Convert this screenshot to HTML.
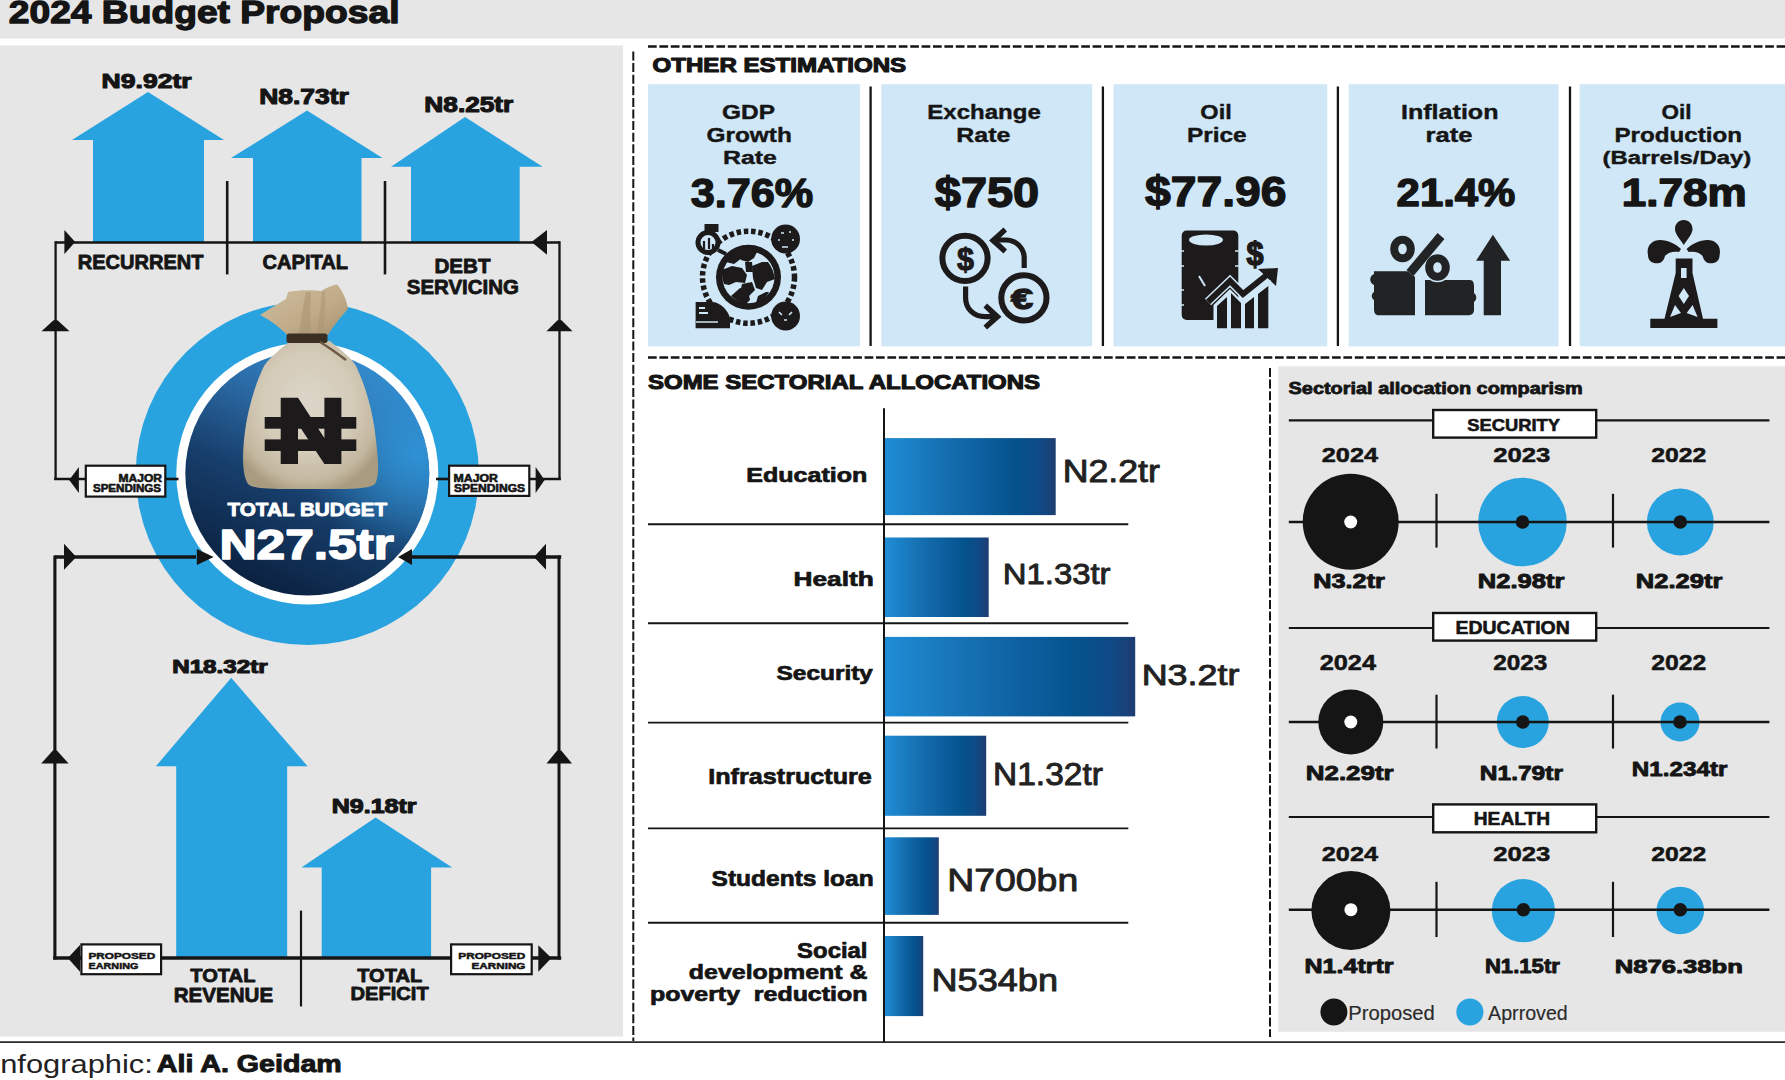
<!DOCTYPE html>
<html><head><meta charset="utf-8"><title>2024 Budget Proposal</title>
<style>html,body{margin:0;padding:0;background:#fff;width:1785px;height:1080px;overflow:hidden}
svg{display:block}
text{font-family:"Liberation Sans",sans-serif}</style></head>
<body><svg width="1785" height="1080" viewBox="0 0 1785 1080">
<rect x="0" y="0" width="1785.00" height="38.50" fill="#e6e6e6"/>
<text x="8.75" y="22.85" font-size="32.00" font-weight="bold" fill="#151515" stroke="#151515" stroke-width="1.3" stroke-linejoin="round" textLength="390.74" lengthAdjust="spacingAndGlyphs">2024 Budget Proposal</text>
<rect x="0" y="45.5" width="623.00" height="991.00" fill="#e6e6e6"/>
<polygon fill="#29a3df" points="148.0,92.0 224.0,140.0 204.0,140.0 204.0,242.0 93.0,242.0 93.0,140.0 72.0,140.0"/>
<polygon fill="#29a3df" points="307.0,110.5 382.5,158.0 361.5,158.0 361.5,242.0 253.0,242.0 253.0,158.0 231.0,158.0"/>
<polygon fill="#29a3df" points="465.0,117.0 542.6,166.7 519.7,166.7 519.7,242.0 411.0,242.0 411.0,166.7 391.0,166.7"/>
<text x="101.63" y="87.55" font-size="20.86" font-weight="bold" fill="#151515" stroke="#151515" stroke-width="1.1" stroke-linejoin="round" textLength="89.94" lengthAdjust="spacingAndGlyphs">N9.92tr</text>
<text x="259.23" y="103.85" font-size="21.43" font-weight="bold" fill="#151515" stroke="#151515" stroke-width="1.1" stroke-linejoin="round" textLength="89.63" lengthAdjust="spacingAndGlyphs">N8.73tr</text>
<text x="424.34" y="112.45" font-size="21.29" font-weight="bold" fill="#151515" stroke="#151515" stroke-width="1.1" stroke-linejoin="round" textLength="89.02" lengthAdjust="spacingAndGlyphs">N8.25tr</text>
<line x1="55.5" y1="242.4" x2="559.5" y2="242.4" stroke="#151515" stroke-width="2.5"/>
<line x1="55.6" y1="241.2" x2="55.6" y2="479" stroke="#151515" stroke-width="2.3"/>
<line x1="559.5" y1="241.2" x2="559.5" y2="479" stroke="#151515" stroke-width="2.3"/>
<line x1="54.1" y1="479" x2="86" y2="479" stroke="#151515" stroke-width="2.5"/>
<line x1="529" y1="479" x2="560.9" y2="479" stroke="#151515" stroke-width="2.5"/>
<line x1="227.2" y1="181" x2="227.2" y2="274.4" stroke="#151515" stroke-width="2.6"/>
<line x1="385" y1="181" x2="385" y2="274.4" stroke="#151515" stroke-width="2.6"/>
<polygon fill="#151515" points="64.4,230.0 75.2,242.0 64.4,254.0"/>
<polygon fill="#151515" points="547.0,230.0 531.5,242.0 547.0,254.7"/>
<polygon fill="#151515" points="41.5,331.2 53.5,320.3 57.5,320.3 69.5,331.2"/>
<polygon fill="#151515" points="546.5,331.2 557.5,320.3 561.5,320.3 572.5,331.2"/>
<polygon fill="#151515" points="78.9,467.0 69.2,480.0 78.9,493.0"/>
<polygon fill="#151515" points="535.6,467.0 544.6,480.0 535.6,493.0"/>
<text x="77.80" y="268.50" font-size="19.71" font-weight="bold" fill="#151515" stroke="#151515" stroke-width="0.8" stroke-linejoin="round" textLength="125.76" lengthAdjust="spacingAndGlyphs">RECURRENT</text>
<text x="262.50" y="269.10" font-size="20.00" font-weight="bold" fill="#151515" stroke="#151515" stroke-width="0.8" stroke-linejoin="round" textLength="85.58" lengthAdjust="spacingAndGlyphs">CAPITAL</text>
<text x="434.46" y="272.80" font-size="20.29" font-weight="bold" fill="#151515" stroke="#151515" stroke-width="0.8" stroke-linejoin="round" textLength="56.19" lengthAdjust="spacingAndGlyphs">DEBT</text>
<text x="406.79" y="293.80" font-size="20.00" font-weight="bold" fill="#151515" stroke="#151515" stroke-width="0.8" stroke-linejoin="round" textLength="112.10" lengthAdjust="spacingAndGlyphs">SERVICING</text>
<defs>
<linearGradient id="dark" x1="0.75" y1="0.0" x2="0.3" y2="1">
<stop offset="0" stop-color="#3690d2"/><stop offset="0.3" stop-color="#2b6ba6"/><stop offset="0.6" stop-color="#173e6b"/><stop offset="1" stop-color="#0a1f3d"/>
</linearGradient>
<radialGradient id="darkhl" cx="0.95" cy="0.42" r="0.45">
<stop offset="0" stop-color="#2f95d8" stop-opacity="0.9"/><stop offset="1" stop-color="#2f95d8" stop-opacity="0"/>
</radialGradient>
<radialGradient id="sack" cx="0.5" cy="0.45" r="0.6">
<stop offset="0" stop-color="#dcd0b8"/><stop offset="0.7" stop-color="#cbbb9c"/><stop offset="1" stop-color="#a8966f"/>
</radialGradient>
<linearGradient id="bar" x1="0" x2="1" y1="0" y2="0">
<stop offset="0" stop-color="#1f8dd6"/><stop offset="0.3" stop-color="#1773b5"/><stop offset="0.55" stop-color="#0d60a0"/><stop offset="0.76" stop-color="#04538d"/><stop offset="0.9" stop-color="#0f4a86"/><stop offset="1" stop-color="#1e3c71"/>
</linearGradient>
</defs>
<circle cx="307.3" cy="473.5" r="171.5" fill="#29a3df"/>
<circle cx="307.3" cy="473.5" r="131" fill="#ffffff"/>
<circle cx="307.3" cy="473.5" r="122" fill="url(#dark)"/>
<circle cx="307.3" cy="473.5" r="122" fill="url(#darkhl)"/>
<line x1="165" y1="479" x2="178.5" y2="479" stroke="#151515" stroke-width="2.6"/>
<line x1="436" y1="479" x2="449" y2="479" stroke="#151515" stroke-width="2.6"/>
<line x1="54.9" y1="557" x2="196" y2="557" stroke="#151515" stroke-width="3.5"/>
<polygon fill="#151515" points="196.8,549.0 213.7,557.0 196.8,565.0"/>
<line x1="412" y1="557" x2="561.2" y2="557" stroke="#151515" stroke-width="3.5"/>
<polygon fill="#151515" points="412.0,549.0 398.0,557.0 412.0,565.0"/>
<polygon fill="#151515" points="64.0,543.7 76.3,557.0 64.0,569.7"/>
<polygon fill="#151515" points="546.0,543.7 534.0,557.0 546.0,569.7"/>
<line x1="54.9" y1="555.5" x2="54.9" y2="959.5" stroke="#151515" stroke-width="3.1"/>
<line x1="559" y1="555.5" x2="559" y2="959.5" stroke="#151515" stroke-width="3.0"/>
<polygon fill="#151515" points="41.2,763.4 52.9,750.6 56.9,750.6 68.6,763.4"/>
<polygon fill="#151515" points="546.5,763.4 557.2,750.6 561.2,750.6 572.0,763.4"/>
<polygon fill="#29a3df" points="231.2,677.7 307.6,766.3 287.2,766.3 287.2,958.0 176.2,958.0 176.2,766.3 155.8,766.3"/>
<polygon fill="#29a3df" points="375.6,817.5 452.2,867.5 431.1,867.5 431.1,958.0 321.7,958.0 321.7,867.5 301.4,867.5"/>
<line x1="53.2" y1="958" x2="561.2" y2="958" stroke="#151515" stroke-width="3.5"/>
<line x1="301" y1="910.6" x2="301" y2="1006.4" stroke="#151515" stroke-width="2.2"/>
<polygon fill="#151515" points="80.0,945.0 67.8,958.0 80.0,971.7"/>
<polygon fill="#151515" points="538.3,945.3 551.4,958.0 538.3,971.7"/>
<text x="172.18" y="673.05" font-size="18.71" font-weight="bold" fill="#151515" stroke="#151515" stroke-width="1.1" stroke-linejoin="round" textLength="95.46" lengthAdjust="spacingAndGlyphs">N18.32tr</text>
<text x="331.72" y="813.35" font-size="19.86" font-weight="bold" fill="#151515" stroke="#151515" stroke-width="1.1" stroke-linejoin="round" textLength="84.82" lengthAdjust="spacingAndGlyphs">N9.18tr</text>
<text x="190.20" y="982.40" font-size="18.71" font-weight="bold" fill="#151515" stroke="#151515" stroke-width="0.8" stroke-linejoin="round" textLength="65.31" lengthAdjust="spacingAndGlyphs">TOTAL</text>
<text x="173.76" y="1002.40" font-size="19.86" font-weight="bold" fill="#151515" stroke="#151515" stroke-width="0.8" stroke-linejoin="round" textLength="99.35" lengthAdjust="spacingAndGlyphs">REVENUE</text>
<text x="357.20" y="981.60" font-size="17.43" font-weight="bold" fill="#151515" stroke="#151515" stroke-width="0.8" stroke-linejoin="round" textLength="65.01" lengthAdjust="spacingAndGlyphs">TOTAL</text>
<text x="350.49" y="1000.40" font-size="18.57" font-weight="bold" fill="#151515" stroke="#151515" stroke-width="0.8" stroke-linejoin="round" textLength="78.28" lengthAdjust="spacingAndGlyphs">DEFICIT</text>
<rect x="85.80" y="465.70" width="79.50" height="30.90" fill="#fff" stroke="#151515" stroke-width="2.2"/>
<rect x="449.10" y="465.70" width="80.20" height="30.20" fill="#fff" stroke="#151515" stroke-width="2.2"/>
<rect x="81.40" y="944.40" width="79.70" height="29.80" fill="#fff" stroke="#151515" stroke-width="2.2"/>
<rect x="451.10" y="944.40" width="80.60" height="29.80" fill="#fff" stroke="#151515" stroke-width="2.2"/>
<text x="118.52" y="481.70" font-size="10.57" font-weight="bold" fill="#151515" stroke="#151515" stroke-width="0.6" stroke-linejoin="round" textLength="43.44" lengthAdjust="spacingAndGlyphs">MAJOR</text>
<text x="92.95" y="491.70" font-size="10.57" font-weight="bold" fill="#151515" stroke="#151515" stroke-width="0.6" stroke-linejoin="round" textLength="68.16" lengthAdjust="spacingAndGlyphs">SPENDINGS</text>
<text x="453.50" y="481.70" font-size="10.57" font-weight="bold" fill="#151515" stroke="#151515" stroke-width="0.6" stroke-linejoin="round" textLength="44.46" lengthAdjust="spacingAndGlyphs">MAJOR</text>
<text x="453.94" y="491.70" font-size="10.57" font-weight="bold" fill="#151515" stroke="#151515" stroke-width="0.6" stroke-linejoin="round" textLength="71.19" lengthAdjust="spacingAndGlyphs">SPENDINGS</text>
<text x="88.48" y="959.25" font-size="9.29" font-weight="bold" fill="#151515" stroke="#151515" stroke-width="0.5" stroke-linejoin="round" textLength="66.77" lengthAdjust="spacingAndGlyphs">PROPOSED</text>
<text x="88.55" y="969.25" font-size="9.29" font-weight="bold" fill="#151515" stroke="#151515" stroke-width="0.5" stroke-linejoin="round" textLength="49.87" lengthAdjust="spacingAndGlyphs">EARNING</text>
<text x="458.28" y="959.25" font-size="9.29" font-weight="bold" fill="#151515" stroke="#151515" stroke-width="0.5" stroke-linejoin="round" textLength="66.98" lengthAdjust="spacingAndGlyphs">PROPOSED</text>
<text x="471.49" y="969.25" font-size="9.29" font-weight="bold" fill="#151515" stroke="#151515" stroke-width="0.5" stroke-linejoin="round" textLength="53.98" lengthAdjust="spacingAndGlyphs">EARNING</text>
<text x="227.54" y="516.05" font-size="18.86" font-weight="bold" fill="#ffffff" stroke="#ffffff" stroke-width="0.9" stroke-linejoin="round" textLength="159.66" lengthAdjust="spacingAndGlyphs">TOTAL BUDGET</text>
<text x="219.46" y="558.90" font-size="43.00" font-weight="bold" fill="#ffffff" stroke="#ffffff" stroke-width="1.6" stroke-linejoin="round" textLength="174.25" lengthAdjust="spacingAndGlyphs">N27.5tr</text>
<line x1="0" y1="1042.2" x2="1785" y2="1042.2" stroke="#2a2a2a" stroke-width="1.8"/>
<text x="0.19" y="1072.80" font-size="26.21" font-weight="normal" fill="#222" textLength="152.67" lengthAdjust="spacingAndGlyphs">nfographic:</text>
<text x="156.78" y="1072.30" font-size="24.83" font-weight="bold" fill="#151515" stroke="#151515" stroke-width="1.0" stroke-linejoin="round" textLength="185.01" lengthAdjust="spacingAndGlyphs">Ali A. Geidam</text>
<line x1="648" y1="46.5" x2="1785" y2="46.5" stroke="#151515" stroke-width="2.3" stroke-dasharray="8.7 2.7"/>
<line x1="648" y1="357.5" x2="1785" y2="357.5" stroke="#151515" stroke-width="2.3" stroke-dasharray="8.7 2.7"/>
<line x1="633.3" y1="51.5" x2="633.3" y2="1041" stroke="#151515" stroke-width="2.0" stroke-dasharray="9 2.6"/>
<line x1="1270" y1="368" x2="1270" y2="1037" stroke="#151515" stroke-width="2.0" stroke-dasharray="9 2.6"/>
<text x="652.59" y="71.65" font-size="19.43" font-weight="bold" fill="#151515" stroke="#151515" stroke-width="1.1" stroke-linejoin="round" textLength="253.56" lengthAdjust="spacingAndGlyphs">OTHER ESTIMATIONS</text>
<rect x="648.1" y="84.2" width="211.90" height="262.10" fill="#cfe7f6"/>
<rect x="881.3" y="84.2" width="210.90" height="262.10" fill="#cfe7f6"/>
<rect x="1113.5" y="84.2" width="213.70" height="262.10" fill="#cfe7f6"/>
<rect x="1348.7" y="84.2" width="209.90" height="262.10" fill="#cfe7f6"/>
<rect x="1579.7" y="84.2" width="210.30" height="262.10" fill="#cfe7f6"/>
<line x1="870.6" y1="86.5" x2="870.6" y2="346" stroke="#151515" stroke-width="2.3"/>
<line x1="1102.9" y1="86.5" x2="1102.9" y2="346" stroke="#151515" stroke-width="2.3"/>
<line x1="1337.9" y1="86.5" x2="1337.9" y2="346" stroke="#151515" stroke-width="2.3"/>
<line x1="1570" y1="86.5" x2="1570" y2="346" stroke="#151515" stroke-width="2.3"/>
<text x="722.02" y="118.70" font-size="20.14" font-weight="bold" fill="#151515" stroke="#151515" stroke-width="0.4" stroke-linejoin="round" textLength="52.96" lengthAdjust="spacingAndGlyphs">GDP</text>
<text x="706.42" y="142.00" font-size="20.43" font-weight="bold" fill="#151515" stroke="#151515" stroke-width="0.4" stroke-linejoin="round" textLength="85.43" lengthAdjust="spacingAndGlyphs">Growth</text>
<text x="722.99" y="164.20" font-size="18.70" font-weight="bold" fill="#151515" stroke="#151515" stroke-width="0.4" stroke-linejoin="round" textLength="53.85" lengthAdjust="spacingAndGlyphs">Rate</text>
<text x="690.72" y="206.50" font-size="40.00" font-weight="bold" fill="#151515" stroke="#151515" stroke-width="1.4" stroke-linejoin="round" textLength="122.48" lengthAdjust="spacingAndGlyphs">3.76%</text>
<text x="927.34" y="118.90" font-size="20.43" font-weight="bold" fill="#151515" stroke="#151515" stroke-width="0.4" stroke-linejoin="round" textLength="113.49" lengthAdjust="spacingAndGlyphs">Exchange</text>
<text x="956.28" y="142.00" font-size="20.29" font-weight="bold" fill="#151515" stroke="#151515" stroke-width="0.4" stroke-linejoin="round" textLength="54.16" lengthAdjust="spacingAndGlyphs">Rate</text>
<text x="934.80" y="206.50" font-size="42.30" font-weight="bold" fill="#151515" stroke="#151515" stroke-width="1.4" stroke-linejoin="round" textLength="104.37" lengthAdjust="spacingAndGlyphs">$750</text>
<text x="1200.36" y="118.90" font-size="20.43" font-weight="bold" fill="#151515" stroke="#151515" stroke-width="0.4" stroke-linejoin="round" textLength="31.35" lengthAdjust="spacingAndGlyphs">Oil</text>
<text x="1186.91" y="141.80" font-size="19.45" font-weight="bold" fill="#151515" stroke="#151515" stroke-width="0.4" stroke-linejoin="round" textLength="59.78" lengthAdjust="spacingAndGlyphs">Price</text>
<text x="1145.11" y="206.30" font-size="42.70" font-weight="bold" fill="#151515" stroke="#151515" stroke-width="1.4" stroke-linejoin="round" textLength="141.45" lengthAdjust="spacingAndGlyphs">$77.96</text>
<text x="1400.97" y="118.90" font-size="20.43" font-weight="bold" fill="#151515" stroke="#151515" stroke-width="0.4" stroke-linejoin="round" textLength="97.52" lengthAdjust="spacingAndGlyphs">Inflation</text>
<text x="1425.64" y="141.80" font-size="20.43" font-weight="bold" fill="#151515" stroke="#151515" stroke-width="0.4" stroke-linejoin="round" textLength="46.95" lengthAdjust="spacingAndGlyphs">rate</text>
<text x="1396.63" y="206.30" font-size="38.71" font-weight="bold" fill="#151515" stroke="#151515" stroke-width="1.4" stroke-linejoin="round" textLength="118.73" lengthAdjust="spacingAndGlyphs">21.4%</text>
<text x="1661.60" y="118.90" font-size="20.43" font-weight="bold" fill="#151515" stroke="#151515" stroke-width="0.4" stroke-linejoin="round" textLength="30.04" lengthAdjust="spacingAndGlyphs">Oil</text>
<text x="1614.43" y="141.80" font-size="20.43" font-weight="bold" fill="#151515" stroke="#151515" stroke-width="0.4" stroke-linejoin="round" textLength="127.58" lengthAdjust="spacingAndGlyphs">Production</text>
<text x="1602.50" y="163.70" font-size="18.26" font-weight="bold" fill="#151515" stroke="#151515" stroke-width="0.4" stroke-linejoin="round" textLength="148.80" lengthAdjust="spacingAndGlyphs">(Barrels/Day)</text>
<text x="1621.76" y="206.30" font-size="38.00" font-weight="bold" fill="#151515" stroke="#151515" stroke-width="1.4" stroke-linejoin="round" textLength="124.91" lengthAdjust="spacingAndGlyphs">1.78m</text>
<text x="648.03" y="389.45" font-size="20.14" font-weight="bold" fill="#151515" stroke="#151515" stroke-width="1.1" stroke-linejoin="round" textLength="392.03" lengthAdjust="spacingAndGlyphs">SOME SECTORIAL ALLOCATIONS</text>
<line x1="884" y1="408.3" x2="884" y2="1042.3" stroke="#151515" stroke-width="2.0"/>
<rect x="885" y="438.1" width="170.70" height="77.00" fill="url(#bar)"/>
<rect x="885" y="537.5" width="103.70" height="79.50" fill="url(#bar)"/>
<rect x="885" y="636.9" width="250.20" height="79.50" fill="url(#bar)"/>
<rect x="885" y="735.7" width="101.20" height="80.10" fill="url(#bar)"/>
<rect x="885" y="837.3" width="53.80" height="77.60" fill="url(#bar)"/>
<rect x="885" y="936" width="38.20" height="80.10" fill="url(#bar)"/>
<line x1="648" y1="524.2" x2="1128.3" y2="524.2" stroke="#151515" stroke-width="1.9"/>
<line x1="648" y1="623.2" x2="1128.3" y2="623.2" stroke="#151515" stroke-width="1.9"/>
<line x1="648" y1="722.6" x2="1128.3" y2="722.6" stroke="#151515" stroke-width="1.9"/>
<line x1="648" y1="828.4" x2="1128.3" y2="828.4" stroke="#151515" stroke-width="1.9"/>
<line x1="648" y1="922.7" x2="1128.3" y2="922.7" stroke="#151515" stroke-width="1.9"/>
<text x="746.22" y="481.65" font-size="20.41" font-weight="bold" fill="#151515" stroke="#151515" stroke-width="0.7" stroke-linejoin="round" textLength="121.10" lengthAdjust="spacingAndGlyphs">Education</text>
<text x="793.54" y="585.55" font-size="20.28" font-weight="bold" fill="#151515" stroke="#151515" stroke-width="0.7" stroke-linejoin="round" textLength="80.21" lengthAdjust="spacingAndGlyphs">Health</text>
<text x="776.52" y="680.45" font-size="19.86" font-weight="bold" fill="#151515" stroke="#151515" stroke-width="0.7" stroke-linejoin="round" textLength="96.39" lengthAdjust="spacingAndGlyphs">Security</text>
<text x="708.21" y="784.15" font-size="21.79" font-weight="bold" fill="#151515" stroke="#151515" stroke-width="0.7" stroke-linejoin="round" textLength="163.66" lengthAdjust="spacingAndGlyphs">Infrastructure</text>
<text x="711.61" y="885.95" font-size="21.52" font-weight="bold" fill="#151515" stroke="#151515" stroke-width="0.7" stroke-linejoin="round" textLength="162.04" lengthAdjust="spacingAndGlyphs">Students loan</text>
<text x="797.13" y="958.45" font-size="21.52" font-weight="bold" fill="#151515" stroke="#151515" stroke-width="0.7" stroke-linejoin="round" textLength="70.39" lengthAdjust="spacingAndGlyphs">Social</text>
<text x="688.85" y="979.15" font-size="21.10" font-weight="bold" fill="#151515" stroke="#151515" stroke-width="0.7" stroke-linejoin="round" textLength="178.62" lengthAdjust="spacingAndGlyphs">development &amp;</text>
<text x="650.03" y="1000.95" font-size="19.45" font-weight="bold" fill="#151515" stroke="#151515" stroke-width="0.7" stroke-linejoin="round" textLength="217.39" lengthAdjust="spacingAndGlyphs">poverty  reduction</text>
<text x="1062.69" y="482.35" font-size="30.57" font-weight="normal" fill="#222" stroke="#222" stroke-width="0.9" stroke-linejoin="round" textLength="97.21" lengthAdjust="spacingAndGlyphs">N2.2tr</text>
<text x="1002.72" y="583.95" font-size="30.29" font-weight="normal" fill="#222" stroke="#222" stroke-width="0.9" stroke-linejoin="round" textLength="107.87" lengthAdjust="spacingAndGlyphs">N1.33tr</text>
<text x="1141.68" y="685.05" font-size="29.57" font-weight="normal" fill="#222" stroke="#222" stroke-width="0.9" stroke-linejoin="round" textLength="97.72" lengthAdjust="spacingAndGlyphs">N3.2tr</text>
<text x="993.07" y="784.85" font-size="31.14" font-weight="normal" fill="#222" stroke="#222" stroke-width="0.9" stroke-linejoin="round" textLength="109.83" lengthAdjust="spacingAndGlyphs">N1.32tr</text>
<text x="947.16" y="890.75" font-size="31.45" font-weight="normal" fill="#222" stroke="#222" stroke-width="0.9" stroke-linejoin="round" textLength="131.04" lengthAdjust="spacingAndGlyphs">N700bn</text>
<text x="931.56" y="990.85" font-size="30.48" font-weight="normal" fill="#222" stroke="#222" stroke-width="0.9" stroke-linejoin="round" textLength="126.44" lengthAdjust="spacingAndGlyphs">N534bn</text>
<rect x="1278.2" y="366.2" width="506.80" height="665.60" fill="#e6e6e6"/>
<text x="1288.60" y="394.10" font-size="16.83" font-weight="bold" fill="#151515" stroke="#151515" stroke-width="0.8" stroke-linejoin="round" textLength="294.15" lengthAdjust="spacingAndGlyphs">Sectorial allocation comparism</text>
<line x1="1288.8" y1="420.3" x2="1769.4" y2="420.3" stroke="#151515" stroke-width="2.2"/>
<rect x="1433.20" y="410.00" width="163.00" height="27.60" fill="#fff" stroke="#151515" stroke-width="2.4"/>
<text x="1467.15" y="430.60" font-size="17.29" font-weight="bold" fill="#151515" stroke="#151515" stroke-width="0.6" stroke-linejoin="round" textLength="92.85" lengthAdjust="spacingAndGlyphs">SECURITY</text>
<text x="1321.76" y="462.15" font-size="20.43" font-weight="bold" fill="#151515" stroke="#151515" stroke-width="0.5" stroke-linejoin="round" textLength="56.30" lengthAdjust="spacingAndGlyphs">2024</text>
<text x="1493.15" y="462.15" font-size="20.43" font-weight="bold" fill="#151515" stroke="#151515" stroke-width="0.5" stroke-linejoin="round" textLength="57.19" lengthAdjust="spacingAndGlyphs">2023</text>
<text x="1651.18" y="462.15" font-size="20.43" font-weight="bold" fill="#151515" stroke="#151515" stroke-width="0.5" stroke-linejoin="round" textLength="55.15" lengthAdjust="spacingAndGlyphs">2022</text>
<line x1="1288.8" y1="522" x2="1769.4" y2="522" stroke="#151515" stroke-width="2.4"/>
<line x1="1436.5" y1="493.8" x2="1436.5" y2="547.6" stroke="#151515" stroke-width="2.2"/>
<line x1="1613" y1="493.8" x2="1613" y2="547.6" stroke="#151515" stroke-width="2.2"/>
<circle cx="1350.7" cy="521.7" r="48" fill="#151515"/>
<circle cx="1350.7" cy="522" r="6.5" fill="#fff"/>
<circle cx="1522.5" cy="522" r="44.3" fill="#29a3df"/>
<line x1="1478.2" y1="522" x2="1566.8" y2="522" stroke="#151515" stroke-width="2.4"/>
<circle cx="1522.5" cy="522" r="6.8" fill="#151515"/>
<circle cx="1680.3" cy="522" r="33.4" fill="#29a3df"/>
<line x1="1646.8999999999999" y1="522" x2="1713.7" y2="522" stroke="#151515" stroke-width="2.4"/>
<circle cx="1680.3" cy="522" r="6.8" fill="#151515"/>
<text x="1313.21" y="588.35" font-size="19.86" font-weight="bold" fill="#151515" stroke="#151515" stroke-width="0.9" stroke-linejoin="round" textLength="71.71" lengthAdjust="spacingAndGlyphs">N3.2tr</text>
<text x="1477.79" y="588.35" font-size="19.86" font-weight="bold" fill="#151515" stroke="#151515" stroke-width="0.9" stroke-linejoin="round" textLength="86.56" lengthAdjust="spacingAndGlyphs">N2.98tr</text>
<text x="1635.79" y="588.35" font-size="19.86" font-weight="bold" fill="#151515" stroke="#151515" stroke-width="0.9" stroke-linejoin="round" textLength="86.56" lengthAdjust="spacingAndGlyphs">N2.29tr</text>
<line x1="1288.8" y1="628" x2="1769.4" y2="628" stroke="#151515" stroke-width="2.2"/>
<rect x="1433.20" y="613.00" width="163.00" height="27.60" fill="#fff" stroke="#151515" stroke-width="2.4"/>
<text x="1455.54" y="633.50" font-size="18.00" font-weight="bold" fill="#151515" stroke="#151515" stroke-width="0.6" stroke-linejoin="round" textLength="114.23" lengthAdjust="spacingAndGlyphs">EDUCATION</text>
<text x="1319.66" y="669.75" font-size="21.57" font-weight="bold" fill="#151515" stroke="#151515" stroke-width="0.5" stroke-linejoin="round" textLength="56.41" lengthAdjust="spacingAndGlyphs">2024</text>
<text x="1493.20" y="669.75" font-size="21.57" font-weight="bold" fill="#151515" stroke="#151515" stroke-width="0.5" stroke-linejoin="round" textLength="54.20" lengthAdjust="spacingAndGlyphs">2023</text>
<text x="1651.18" y="669.75" font-size="21.57" font-weight="bold" fill="#151515" stroke="#151515" stroke-width="0.5" stroke-linejoin="round" textLength="55.15" lengthAdjust="spacingAndGlyphs">2022</text>
<line x1="1288.8" y1="722" x2="1769.4" y2="722" stroke="#151515" stroke-width="2.4"/>
<line x1="1436.5" y1="694.7" x2="1436.5" y2="748.5" stroke="#151515" stroke-width="2.2"/>
<line x1="1613" y1="694.7" x2="1613" y2="748.5" stroke="#151515" stroke-width="2.2"/>
<circle cx="1350.8" cy="722" r="32.5" fill="#151515"/>
<circle cx="1350.8" cy="722" r="6.5" fill="#fff"/>
<circle cx="1522.8" cy="722" r="26" fill="#29a3df"/>
<line x1="1496.8" y1="722" x2="1548.8" y2="722" stroke="#151515" stroke-width="2.4"/>
<circle cx="1522.8" cy="722" r="6.8" fill="#151515"/>
<circle cx="1680" cy="722" r="19.5" fill="#29a3df"/>
<line x1="1660.5" y1="722" x2="1699.5" y2="722" stroke="#151515" stroke-width="2.4"/>
<circle cx="1680" cy="722" r="6.8" fill="#151515"/>
<text x="1305.76" y="779.55" font-size="20.57" font-weight="bold" fill="#151515" stroke="#151515" stroke-width="0.9" stroke-linejoin="round" textLength="87.99" lengthAdjust="spacingAndGlyphs">N2.29tr</text>
<text x="1479.86" y="779.55" font-size="20.57" font-weight="bold" fill="#151515" stroke="#151515" stroke-width="0.9" stroke-linejoin="round" textLength="83.08" lengthAdjust="spacingAndGlyphs">N1.79tr</text>
<text x="1631.88" y="775.55" font-size="21.14" font-weight="bold" fill="#151515" stroke="#151515" stroke-width="0.9" stroke-linejoin="round" textLength="95.56" lengthAdjust="spacingAndGlyphs">N1.234tr</text>
<line x1="1288.8" y1="817" x2="1769.4" y2="817" stroke="#151515" stroke-width="2.2"/>
<rect x="1433.20" y="804.40" width="163.00" height="27.90" fill="#fff" stroke="#151515" stroke-width="2.4"/>
<text x="1473.75" y="825.00" font-size="18.41" font-weight="bold" fill="#151515" stroke="#151515" stroke-width="0.6" stroke-linejoin="round" textLength="76.31" lengthAdjust="spacingAndGlyphs">HEALTH</text>
<text x="1321.76" y="860.95" font-size="21.14" font-weight="bold" fill="#151515" stroke="#151515" stroke-width="0.5" stroke-linejoin="round" textLength="56.30" lengthAdjust="spacingAndGlyphs">2024</text>
<text x="1493.15" y="860.95" font-size="21.14" font-weight="bold" fill="#151515" stroke="#151515" stroke-width="0.5" stroke-linejoin="round" textLength="57.19" lengthAdjust="spacingAndGlyphs">2023</text>
<text x="1651.18" y="860.95" font-size="21.14" font-weight="bold" fill="#151515" stroke="#151515" stroke-width="0.5" stroke-linejoin="round" textLength="55.15" lengthAdjust="spacingAndGlyphs">2022</text>
<line x1="1288.8" y1="909.7" x2="1769.4" y2="909.7" stroke="#151515" stroke-width="2.4"/>
<line x1="1436.5" y1="881.8" x2="1436.5" y2="937" stroke="#151515" stroke-width="2.2"/>
<line x1="1613" y1="881.8" x2="1613" y2="937" stroke="#151515" stroke-width="2.2"/>
<circle cx="1350.9" cy="910.6" r="39.5" fill="#151515"/>
<circle cx="1350.9" cy="909.7" r="6.5" fill="#fff"/>
<circle cx="1523.4" cy="910.7" r="31.6" fill="#29a3df"/>
<line x1="1491.8000000000002" y1="909.7" x2="1555.0" y2="909.7" stroke="#151515" stroke-width="2.4"/>
<circle cx="1523.4" cy="909.7" r="6.8" fill="#151515"/>
<circle cx="1680.3" cy="910.5" r="23.8" fill="#29a3df"/>
<line x1="1656.5" y1="909.7" x2="1704.1" y2="909.7" stroke="#151515" stroke-width="2.4"/>
<circle cx="1680.3" cy="909.7" r="6.8" fill="#151515"/>
<text x="1304.42" y="973.35" font-size="20.14" font-weight="bold" fill="#151515" stroke="#151515" stroke-width="0.9" stroke-linejoin="round" textLength="89.22" lengthAdjust="spacingAndGlyphs">N1.4trtr</text>
<text x="1484.91" y="973.35" font-size="20.14" font-weight="bold" fill="#151515" stroke="#151515" stroke-width="0.9" stroke-linejoin="round" textLength="74.98" lengthAdjust="spacingAndGlyphs">N1.15tr</text>
<text x="1614.68" y="973.35" font-size="19.17" font-weight="bold" fill="#151515" stroke="#151515" stroke-width="0.9" stroke-linejoin="round" textLength="128.27" lengthAdjust="spacingAndGlyphs">N876.38bn</text>
<circle cx="1333.9" cy="1012" r="13.5" fill="#151515"/>
<circle cx="1469.9" cy="1012" r="13.6" fill="#29a3df"/>
<text x="1348.16" y="1019.92" font-size="19.79" font-weight="normal" fill="#2a2a2a" stroke="#2a2a2a" stroke-width="0.15" stroke-linejoin="round" textLength="86.60" lengthAdjust="spacingAndGlyphs">Proposed</text>
<text x="1488.08" y="1019.92" font-size="19.79" font-weight="normal" fill="#2a2a2a" stroke="#2a2a2a" stroke-width="0.15" stroke-linejoin="round" textLength="79.68" lengthAdjust="spacingAndGlyphs">Aprroved</text>
<defs>
<radialGradient id="sackg" cx="0.48" cy="0.42" r="0.62">
<stop offset="0" stop-color="#ddd6c9"/><stop offset="0.55" stop-color="#d4cbb8"/><stop offset="0.85" stop-color="#c3b79f"/><stop offset="1" stop-color="#a89b80"/>
</radialGradient>
<linearGradient id="topg" x1="0" y1="0" x2="1" y2="1">
<stop offset="0" stop-color="#cfbe9f"/><stop offset="0.6" stop-color="#c0ab88"/><stop offset="1" stop-color="#a58f6c"/>
</linearGradient>

</defs>
<path fill="url(#sackg)" d="M290,341 C282,348 271,356 264,366 C255,385 247,410 244,440 C242,460 243,476 248,484 C254,490 280,489 310,489 C340,489 368,490 375,484 C380,476 378,458 376,440 C373,410 365,385 356,366 C350,356 338,348 330,341 Z"/>
<path fill="url(#topg)" d="M287,335 C281,328 270,320 260,315 C266,311 276,305 286,299 L288,292 C298,290 312,290 321,291 C326,288 333,285 337,284.5 C342,290 347,300 348,309 C341,317 333,326 328,335 Z"/>
<path fill="#a8936f" opacity="0.55" d="M299,334 C301,320 303,305 306,292 L311,292 C310,305 310,320 311,334 Z"/>
<path fill="#a8936f" opacity="0.45" d="M317,334 C319,320 321,305 322,292 L325,291 C326,305 325,320 323,334 Z"/>
<rect x="286.5" y="333.5" width="41" height="9.5" rx="2.5" fill="#3b2e23"/>
<path d="M320,342 C330,348 338,354 346,360" stroke="#6b5a44" stroke-width="2.5" fill="none"/>
<path fill="#1d1a1b" d="M280.7,397.8 H298 L324.4,438 V397.8 H341.4 V463.9 H324.4 L298,424 V463.9 H280.7 Z"/>
<rect x="264.7" y="417" width="91.6" height="11.7" fill="#1d1a1b"/>
<rect x="264.7" y="439.4" width="91.6" height="11.6" fill="#1d1a1b"/>
<circle cx="748.5" cy="277.2" r="46" fill="none" stroke="#1d1a1b" stroke-width="5.5" stroke-dasharray="4.5 2.8"/><circle cx="748.5" cy="277.2" r="32.5" fill="#1d1a1b"/><circle cx="748.5" cy="277.2" r="26" fill="#cfe7f6"/><path fill="#1d1a1b" d="M738,252 C745,250 752,250 757,252 L754,258 L748,262 L741,260 Z"/><path fill="#1d1a1b" d="M722,270 L732,266 L742,268 L747,275 L745,283 L736,282 L729,285 L724,284 C722,279 722,274 722,270 Z"/><path fill="#1d1a1b" d="M752,266 L762,262 L768,262 C772,267 774,273 775,279 L767,282 L762,290 L756,288 L753,278 Z"/><path fill="#1d1a1b" d="M740,288 L748,290 L750,300 L746,304 C740,303 735,300 731,296 Z"/><path fill="#1d1a1b" d="M758,296 L766,292 L769,292 C766,298 762,301 756,303 Z"/><path fill="#1d1a1b" d="M745,262 L752,262 L753,272 L746,272 Z"/><path fill="#1d1a1b" d="M726,262 C730,256 734,253 738,251 L742,258 L734,264 Z"/><path fill="#1d1a1b" d="M742,284 L752,282 L755,290 L749,296 L740,293 Z"/><circle cx="708" cy="242.5" r="10" fill="#cfe7f6" stroke="#1d1a1b" stroke-width="5"/><rect x="704.5" y="224" width="14" height="8" fill="#1d1a1b"/><path d="M704,249 V241 M709,249 V238 M713,249 V244" stroke="#1d1a1b" stroke-width="2.2"/><path d="M718,250 L726,254" stroke="#1d1a1b" stroke-width="4"/><circle cx="785.6" cy="239" r="14.4" fill="#1d1a1b"/><circle cx="785.6" cy="316" r="14.4" fill="#1d1a1b"/><path d="M781,233 h3 M789,232 h2 M778,240 h2 M792,240 h2 M782,247 h6 M779,312 l3,3 M792,312 l-3,3 M784,320 h3" stroke="#cfe7f6" stroke-width="1.6"/><path fill="#1d1a1b" d="M695.6,302 H712 C720,302 728,310 730,318 V328.3 H695.6 Z"/><path d="M699,308 h6 M699,313 h9" stroke="#cfe7f6" stroke-width="1.8"/><path d="M696,322 h22" stroke="#cfe7f6" stroke-width="1.5"/>
<circle cx="965" cy="258.3" r="22.6" fill="none" stroke="#1d1a1b" stroke-width="6"/><circle cx="1023.9" cy="297.8" r="22.6" fill="none" stroke="#1d1a1b" stroke-width="6"/><text x="957" y="270" font-size="31" font-weight="bold" fill="#1d1a1b" stroke="#1d1a1b" stroke-width="1" textLength="17" lengthAdjust="spacingAndGlyphs">$</text><text x="1011" y="308.5" font-size="30" font-weight="bold" fill="#1d1a1b" stroke="#1d1a1b" stroke-width="1.4" textLength="22" lengthAdjust="spacingAndGlyphs">€</text><path d="M1024.2,268 V258 C1024.2,248 1016,240 1006,240 H995" fill="none" stroke="#1d1a1b" stroke-width="5.2"/><path fill="#1d1a1b" d="M989,240.6 L1003.5,227.5 L1007,231.5 L997.5,240.6 L1007,249.5 L1003.5,253.5 Z"/><path d="M965.6,286.5 V298 C965.6,309 974,316.7 985,316.7 H996" fill="none" stroke="#1d1a1b" stroke-width="5.2"/><path fill="#1d1a1b" d="M1001.5,316.7 L987,303.5 L983.5,307.5 L993,316.7 L983.5,325.5 L987,329.5 Z"/>
<rect x="1181.7" y="230.6" width="56.6" height="89.4" rx="5" fill="#1d1a1b"/><ellipse cx="1206" cy="240" rx="17" ry="5.5" fill="#cfe7f6"/><path d="M1181,251 h3 M1181,266 h3 M1181,290 h3 M1181,305 h3 M1235,251 h4 M1235,266 h4" stroke="#cfe7f6" stroke-width="1.5"/><text x="1246.5" y="265" font-size="33" font-weight="bold" fill="#1d1a1b" stroke="#1d1a1b" stroke-width="1.5" textLength="17" lengthAdjust="spacingAndGlyphs">$</text><path d="M1208,302 L1230,281 L1243,294 L1268,274" fill="none" stroke="#cfe7f6" stroke-width="9"/><path d="M1208,302 L1230,281 L1243,294 L1268,274" fill="none" stroke="#1d1a1b" stroke-width="6"/><path fill="#1d1a1b" d="M1278,268 L1258,269 L1276,286 Z"/><path fill="#cfe7f6" d="M1213.5,328.3 V305 L1230,289 L1243,302 L1255,292 L1271,280 V328.3 Z"/><path fill="#1d1a1b" d="M1217,328.3 V306 L1227,297 V328.3 Z M1231,328.3 V293 L1241,303 V328.3 Z M1245,328.3 V304 L1254,297 V328.3 Z M1258,328.3 V294 L1268.3,286 V328.3 Z"/><path d="M1236,294 L1212,316" stroke="#1d1a1b" stroke-width="0"/><path d="M1199,276 l6,10" stroke="#cfe7f6" stroke-width="2"/>
<path fill="#222324" d="M1374,271.3 H1415 V315.2 H1378 C1375,315 1374,312 1374,309 V300 C1371,298 1371,294 1374,292 V285 C1369,283 1369,276 1374,274 Z"/><path fill="#222324" d="M1425,280 H1470 C1473,280 1474,283 1474,286 V293 C1477,295 1477,300 1474,302 V310 C1474,313 1472,315.2 1469,315.2 H1425 Z"/><path d="M1420,268 V316" stroke="#cfe7f6" stroke-width="4"/><ellipse cx="1402.5" cy="249" rx="8.3" ry="9.3" fill="none" stroke="#cfe7f6" stroke-width="11"/><ellipse cx="1437.5" cy="267.5" rx="8.3" ry="9.3" fill="none" stroke="#cfe7f6" stroke-width="11"/><path d="M1441,236 L1410,273" stroke="#cfe7f6" stroke-width="12"/><ellipse cx="1402.5" cy="249" rx="8.3" ry="9.3" fill="none" stroke="#222324" stroke-width="8"/><ellipse cx="1437.5" cy="267.5" rx="8.3" ry="9.3" fill="none" stroke="#222324" stroke-width="8"/><path d="M1441,236 L1410,273" stroke="#222324" stroke-width="9"/><polygon fill="#222324" points="1492.9,234.8 1510.2,260.7 1501,260.7 1501,315.2 1483.7,315.2 1483.7,260.7 1476.1,260.7"/>
<path fill="#1d1a1b" d="M1683.8,220 C1689,220 1692.5,224 1692.5,229 C1692.5,234 1687,240 1683.8,245 C1680.5,240 1675,234 1675,229 C1675,224 1678.5,220 1683.8,220 Z"/><path fill="#1d1a1b" d="M1648,255 C1646,246 1652,240 1660,240 C1668,240 1676,244 1681,249 L1679,252 C1674,251 1668,252 1665,256 C1663,263 1659,264 1654,263 C1650,262 1648,259 1648,255 Z"/><path fill="#1d1a1b" d="M1719.6,255 C1721.6,246 1715.6,240 1707.6,240 C1699.6,240 1691.6,244 1686.6,249 L1688.6,252 C1693.6,251 1699.6,252 1702.6,256 C1704.6,263 1708.6,264 1713.6,263 C1717.6,262 1719.6,259 1719.6,255 Z"/><path fill="#1d1a1b" d="M1675.7,258.6 H1692.5 V273 L1703,318.8 H1717.4 V328.1 H1650.3 V318.8 H1664.5 L1675.7,273 Z"/><path fill="#cfe7f6" d="M1681,268 L1686.6,268 L1686.6,278 L1681,278 Z"/><path fill="#cfe7f6" d="M1683.8,288 L1689,296 L1683.8,304 L1678.6,296 Z"/><path fill="#cfe7f6" d="M1670,317 L1675,305 L1681,313 Z M1697.6,317 L1692.6,305 L1686.6,313 Z"/>
</svg></body></html>
